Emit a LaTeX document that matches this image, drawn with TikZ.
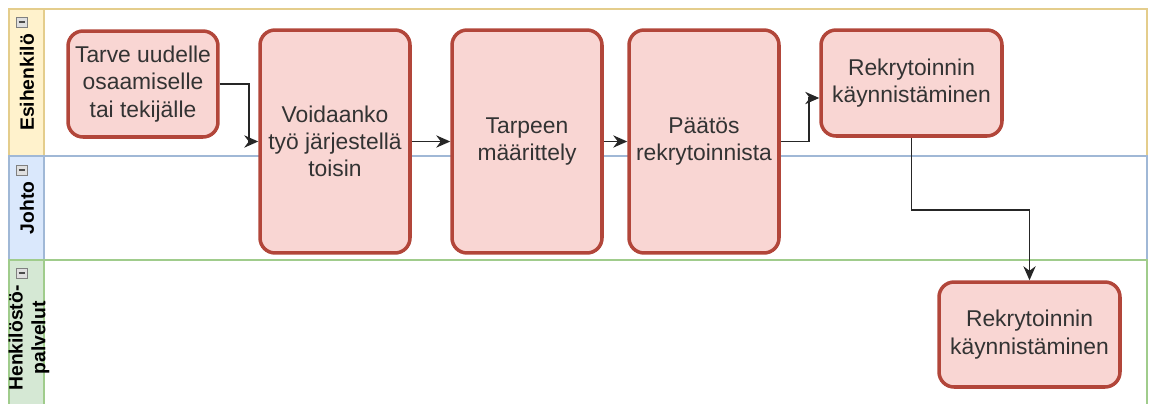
\documentclass[tikz,border=0pt]{standalone}
\usepackage{fontspec}
\setmainfont{Liberation Sans}
\usepackage{xcolor}
\usetikzlibrary{arrows.meta}
\definecolor{taskfill}{RGB}{249,214,211}
\definecolor{taskline}{RGB}{178,70,58}
\definecolor{textgray}{RGB}{51,51,51}
\definecolor{yellowfill}{RGB}{255,242,204}
\definecolor{yellowline}{RGB}{228,205,140}
\definecolor{bluefill}{RGB}{218,232,252}
\definecolor{blueline}{RGB}{160,184,214}
\definecolor{greenfill}{RGB}{213,232,212}
\definecolor{greenline}{RGB}{160,204,140}

\begin{document}
\begin{tikzpicture}[x=0.02cm, y=-0.02cm,
  task/.style={draw=taskline, fill=taskfill, line width=2pt, rounded corners=0.3cm,
    align=center, text=textgray, font=\fontsize{13}{15.5}\selectfont, inner sep=2pt},
  lanename/.style={rotate=90, font=\bfseries\fontsize{11}{13}\selectfont, align=center},
  collapse/.style={draw=gray, fill=gray!25, line width=0.4pt},
  flow/.style={-{Stealth[length=8pt,width=7pt]}, line width=0.9pt, draw=black!85}]
\useasboundingbox (0,0) rectangle (1151,403);
% lanes
\begin{scope}[line width=1pt]
\draw[yellowline] (9,9) rectangle (1147,156);
\filldraw[fill=yellowfill, draw=yellowline] (9,9) rectangle (44,156);
\draw[blueline] (9,156) rectangle (1147,260);
\filldraw[fill=bluefill, draw=blueline] (9,156) rectangle (44,260);
\draw[greenline] (9,260) rectangle (1147,408);
\filldraw[fill=greenfill, draw=greenline] (9,260) rectangle (44,408);
\end{scope}
\foreach \y in {17,165,268} {
  \draw[collapse] (16,\y) rectangle (27,\y+10);
  \draw[gray!60!black, line width=0.6pt] (18.5,\y+5) -- (24.5,\y+5);
}
\node[lanename] (esi) at (27,82.5) {Esihenkilö};
\node[lanename] (johto) at (27,208) {Johto};
\node[lanename] (hpal) at (29,338) {Henkilöstö-\\palvelut};
% tasks
\node[task, minimum width=3cm, minimum height=2.12cm] (tarve) at (143,84) {Tarve uudelle\\osaamiselle\\tai tekijälle};
\node[task, minimum width=3cm, minimum height=4.46cm] (voi) at (335,141.5) {Voidaanko\\työ järjestellä\\toisin};
\node[task, minimum width=3cm, minimum height=4.46cm] (maar) at (527,141.5) {Tarpeen\\määrittely};
\node[task, minimum width=3cm, minimum height=4.46cm] (paat) at (704,141.5) {Päätös\\rekrytoinnista};
\node[task, minimum width=3.62cm, minimum height=2.12cm] (rekA) at (911.5,83) {Rekrytoinnin\\käynnistäminen};
\node[task, minimum width=3.62cm, minimum height=2.1cm] (rekB) at (1029.5,334.5) {Rekrytoinnin\\käynnistäminen};
% connectors
\draw[flow] (tarve.east) -- ++(29,0) |- (voi.west);
\draw[flow] (voi.east) -- (maar.west);
\draw[flow] (maar.east) -- (paat.west);
\draw[flow] (paat.east) -- ++(28,0) |- ([yshift=-0.3cm]rekA.west);
\draw[flow] (rekA.south) -- ++(0,72) -| (rekB.north);
\end{tikzpicture}
\end{document}
